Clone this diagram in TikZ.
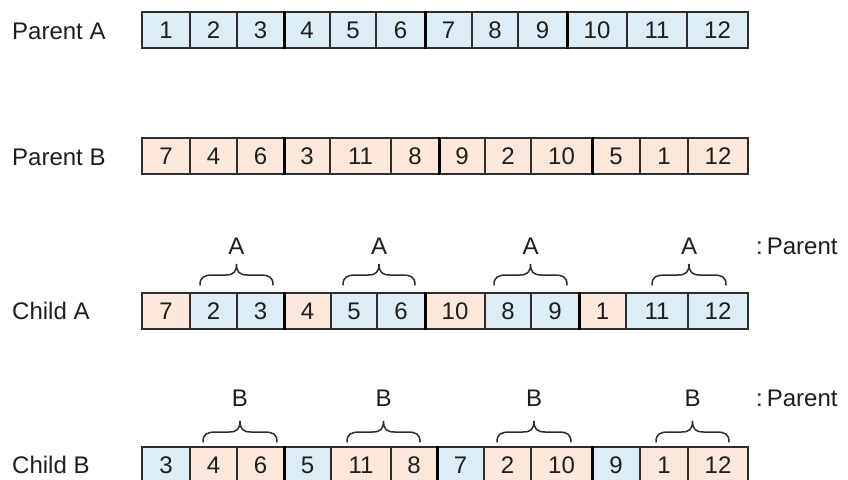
\documentclass[tikz,border=0pt]{standalone}
\usepackage{fontspec}
\setmainfont{Liberation Sans}
\definecolor{cblue}{RGB}{220,237,245}
\definecolor{corange}{RGB}{252,232,218}
\definecolor{cline}{RGB}{45,45,45}
\definecolor{ctext}{RGB}{30,30,30}
\begin{document}
\begin{tikzpicture}[x=1pt,y=-1pt,
  cell/.style={draw=cline,line width=1.2pt,inner sep=0pt,minimum height=36pt,
    text=ctext,font=\fontsize{24}{28}\selectfont},
  rowlabel/.style={anchor=west,inner sep=0pt,text=ctext,font=\fontsize{24}{28}\selectfont},
  letter/.style={inner sep=0pt,text=ctext,font=\fontsize{24}{28}\selectfont},
  sep/.style={line width=3pt,black},
  bracestyle/.style={line width=1.5pt,cline}]
\useasboundingbox (0,0) rectangle (848,479);
\clip (0,0) rectangle (848,479);
\fill[white] (0,0) rectangle (848,479);

% Row labels
\node[rowlabel] (lpa) at (12,31) {Parent A};
\node[rowlabel] (lpb) at (12,157) {Parent B};
\node[rowlabel] (lca) at (12,311) {Child A};
\node[rowlabel] (lcb) at (12,465) {Child B};

% Parent A
\foreach [count=\i] \l/\r/\t/\c in {142/190/1/cblue,190/237/2/cblue,237/284/3/cblue,284/330/4/cblue,330/376/5/cblue,376/425/6/cblue,425/472/7/cblue,472/518/8/cblue,518/567/9/cblue,567/627/10/cblue,627/687/11/cblue,687/748/12/cblue}{
  \pgfmathsetmacro\w{\r-\l}
  \node[cell,fill=\c,minimum width=\w pt] (pa\i) at ({(\l+\r)/2},30) {\t};
}
% Parent B
\foreach [count=\i] \l/\r/\t/\c in {142/190/7/corange,190/237/4/corange,237/284/6/corange,284/330/3/corange,330/391/11/corange,391/439/8/corange,439/485/9/corange,485/531/2/corange,531/592/10/corange,592/640/5/corange,640/688/1/corange,688/748/12/corange}{
  \pgfmathsetmacro\w{\r-\l}
  \node[cell,fill=\c,minimum width=\w pt] (pb\i) at ({(\l+\r)/2},156) {\t};
}
% Child A
\foreach [count=\i] \l/\r/\t/\c in {142/190/7/corange,190/237/2/cblue,237/284/3/cblue,284/331/4/corange,331/377/5/cblue,377/425/6/cblue,425/485/10/corange,485/531/8/cblue,531/579/9/cblue,579/626/1/corange,626/688/11/cblue,688/748/12/cblue}{
  \pgfmathsetmacro\w{\r-\l}
  \node[cell,fill=\c,minimum width=\w pt] (ca\i) at ({(\l+\r)/2},311) {\t};
}
% Child B
\foreach [count=\i] \l/\r/\t/\c in {142/190/3/cblue,190/237/4/corange,237/284/6/corange,284/331/5/cblue,331/391/11/corange,391/437/8/corange,437/484/7/cblue,484/531/2/corange,531/592/10/corange,592/640/9/cblue,640/688/1/corange,688/748/12/corange}{
  \pgfmathsetmacro\w{\r-\l}
  \node[cell,fill=\c,minimum width=\w pt] (cb\i) at ({(\l+\r)/2},465) {\t};
}

% Thick group separators
\foreach \r in {pa,pb,ca,cb}{
  \foreach \k in {3,6,9}{
    \draw[sep] (\r\k.north east) -- (\r\k.south east);
  }
}

% Braces: left/right/bottom y
\foreach \a/\b/\y in {200/273/285,343/415/285,494/567/285,652/726/285,203/277/442,347/420/442,497/571/442,656/729/442}{
  \pgfmathsetmacro\m{(\a+\b)/2}
  \pgfmathsetmacro\h{\y-10}
  \pgfmathsetmacro\tp{\y-21}
  \draw[bracestyle,line cap=round] (\a,\y) .. controls (\a,\h+2) and (\a+4,\h) .. (\a+13,\h) -- (\m-11,\h)
    .. controls (\m-3,\h) and (\m,\h-3) .. (\m,\tp) .. controls (\m,\h-3) and (\m+3,\h) .. (\m+11,\h) -- (\b-13,\h)
    .. controls (\b-4,\h) and (\b,\h+2) .. (\b,\y);
}

% Child A letters
\node[letter] (a1) at (236.5,246) {A};
\node[letter] (a2) at (379,246) {A};
\node[letter] (a3) at (530.5,246) {A};
\node[letter] (a4) at (689,246) {A};
\node[rowlabel] (pla) at (756,246) {:\,Parent};

% Child B letters
\node[letter] (b1) at (240,398) {B};
\node[letter] (b2) at (383.5,398) {B};
\node[letter] (b3) at (534,398) {B};
\node[letter] (b4) at (692.5,398) {B};
\node[rowlabel] (plb) at (756,398) {:\,Parent};
\end{tikzpicture}
\end{document}
